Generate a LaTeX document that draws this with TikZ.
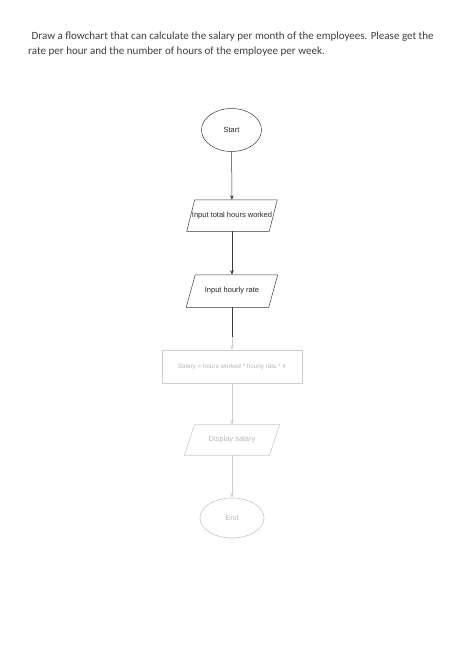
\documentclass[tikz,border=0pt]{standalone}
\usepackage{fontspec}
\setmainfont{Carlito}
\newfontfamily\nodefont{Liberation Sans}
\usetikzlibrary{shapes.geometric,arrows.meta}
\definecolor{txtgray}{HTML}{404040}
\definecolor{linedark}{HTML}{3A3A3A}
\definecolor{blurline}{HTML}{CDCDCD}
\definecolor{blurtext}{HTML}{B8B8B8}
\newcommand{\paraoutline}[3]{%
  \draw[#3] ([xshift=#2pt]#1.north west) -- ([xshift=#2pt]#1.north east)
    -- ([xshift=-#2pt]#1.south east) -- ([xshift=-#2pt]#1.south west) -- cycle;}
\tikzset{
  shapeline/.style={draw=linedark, line width=0.5pt, font=\nodefont\fontsize{7.5}{9}\selectfont, text=black!85, inner sep=1pt},
  termbox/.style={shapeline, ellipse},
  iobox/.style={shapeline, draw=none, rectangle, minimum height=31pt},
  procbox/.style={shapeline, rectangle, minimum height=33pt},
  faded/.style={draw=blurline, text=blurtext},
  outl/.style={draw=linedark, line width=0.5pt},
  foutl/.style={draw=blurline, line width=0.7pt},
  conn/.style={draw=linedark, line width=0.5pt, -{Stealth[length=4.5pt,width=3.5pt]}},
  fconn/.style={draw=blurline, line width=0.7pt, -{Stealth[length=4.5pt,width=3.5pt,fill=blurline]}},
}
\begin{document}
\begin{tikzpicture}[x=1pt,y=-1pt]
\useasboundingbox[fill=white] (0,0) rectangle (474,670);
\node[anchor=base west, text=txtgray, font=\fontsize{11}{13}\selectfont, inner sep=0] (q1) at (31.5,39.5) {Draw a flowchart that can calculate the salary per month of the employees. Please get the};
\node[anchor=base west, text=txtgray, font=\fontsize{11.05}{13}\selectfont, inner sep=0] (q2) at (28,54) {rate per hour and the number of hours of the employee per week.};

\node[termbox, minimum width=60pt, minimum height=43pt] (start) at (231.5,130) {Start};
\node[iobox, minimum width=81pt] (in1) at (232,215.5) {Input total hours worked};
\node[iobox, minimum width=82pt, minimum height=32pt] (in2) at (232,291) {Input hourly rate};
\node[procbox, faded, line width=0.7pt, minimum width=140pt, font=\nodefont\fontsize{6.3}{8}\selectfont] (proc) at (232,366.5) {Salary = hours worked * hourly rate * 4};
\node[iobox, text=blurtext, minimum width=84.5pt, minimum height=30pt] (out) at (232,440) {Display salary};
\node[termbox, faded, line width=0.7pt, minimum width=64pt, minimum height=40pt] (end) at (232,518) {End};
\paraoutline{in1}{4}{outl}
\paraoutline{in2}{4.5}{outl}
\paraoutline{out}{5}{foutl}

\coordinate (mid) at (232,337);
\draw[conn] (start) -- (in1);
\draw[conn] (in1) -- (in2);
\draw[draw=linedark, line width=0.5pt] (in2) -- (mid);
\draw[fconn] (mid) -- (proc);
\draw[fconn] (proc) -- (out);
\draw[fconn] (out) -- (end);
\end{tikzpicture}
\end{document}
